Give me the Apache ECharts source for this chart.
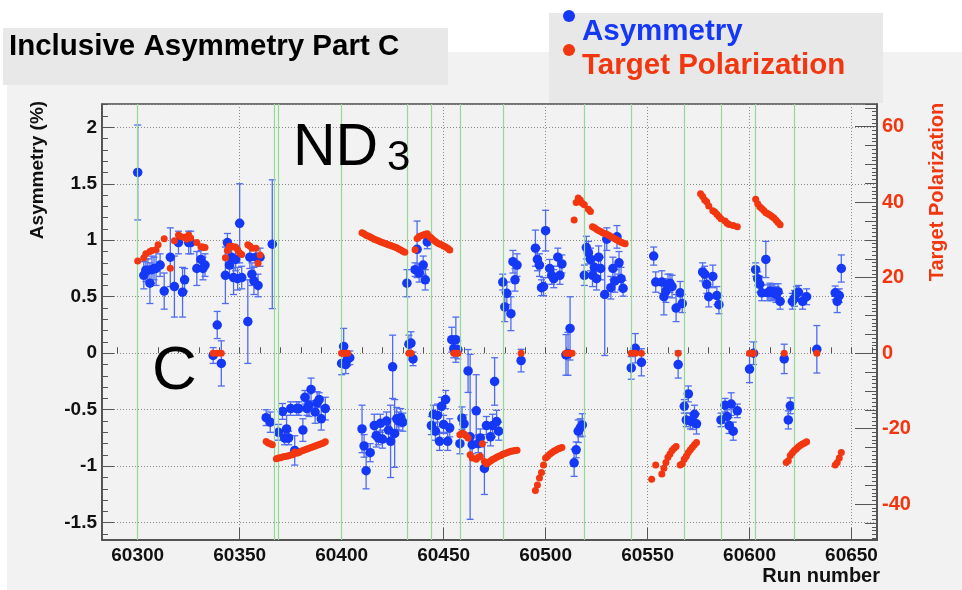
<!DOCTYPE html>
<html>
<head>
<meta charset="utf-8">
<script src="https://cdn.jsdelivr.net/npm/echarts@6/dist/echarts.min.js"></script>
<style>
html,body{margin:0;padding:0;background:#ffffff;}
#main{width:962px;height:590px;}
</style>
</head>
<body>
<div id="main"></div>
<script>
// Run numbers, asymmetry (%) and its statistical error
const asymRuns = [60300,60303,60304,60305,60306,60307,60308,60309,60311,60313,60316,60318,60320,60322,60323,60325,60326,60329,60331,60332,60333,
  60337,60339,60341,60343,60344,60345,60346,60347,60348,60349,60350,60351,60354,60355,60356,60357,60358,60359,60360,
  60363,60365,60366,60369,60371,60372,60373,60374,60375,60377,60378,60379,60381,60382,60383,60384,60385,60387,60388,60389,60390,60392,
  60400,60401,60402,60403,60404,60410,60411,60412,60414,60416,60417,60418,60419,60420,60422,60423,60424,60425,60426,60427,60428,60429,60430,
  60432,60433,60434,60435,60436,60437,60438,60440,60441,60442,60444,60445,60446,60447,60448,60449,60450,60451,60452,60453,
  60454,60455,60456,60457,60458,60459,60460,60462,60463,60464,60466,60467,60468,60470,60471,60473,60474,60475,60476,60477,
  60479,60480,60481,60483,60484,60485,60486,60488,60495,60496,60497,60498,60499,60500,60502,60503,60504,60506,60507,60508,
  60510,60511,60512,60514,60515,60516,60517,60518,60519,60520,60521,60522,60523,60524,60525,60526,60527,60529,60530,60532,60533,60534,60535,60536,60537,60538,
  60542,60544,60547,60553,60554,60557,60558,60559,60560,60561,60562,60564,60565,60566,60567,60568,60569,60570,60571,60572,60573,60574,
  60577,60578,60579,60580,60582,60584,60585,60586,60588,60589,60590,60591,60592,60594,60600,60602,
  60603,60604,60605,60606,60608,60609,60610,60611,60612,60613,60614,60615,60617,60619,60620,60621,60622,60623,60624,60626,60628,60633,
  60642,60643,60644,60645];
const asymVals = [1.60,0.69,0.735,0.735,0.62,0.74,0.75,0.75,0.78,0.55,0.85,0.59,0.98,0.54,0.65,0.98,0.98,0.75,0.83,0.75,0.78,
  -0.02,0.25,-0.09,0.69,0.98,0.78,0.85,0.67,0.83,0.66,1.15,0.67,0.28,0.85,0.70,0.64,0.85,0.60,0.85,
  -0.57,-0.61,0.965,-0.70,-0.515,-0.75,-0.67,-0.75,-0.49,-0.86,-0.49,-0.49,-0.68,-0.39,-0.49,-0.46,-0.32,-0.52,-0.44,-0.41,-0.58,-0.49,
  -0.09,0.06,-0.10,-0.05,-0.04,-0.67,-0.82,-1.04,-0.88,-0.64,-0.73,-0.75,-0.62,-0.76,-0.60,-0.68,-0.78,-0.12,-0.71,-0.58,-0.60,-0.57,-0.61,
  0.62,0.08,0.09,-0.05,0.74,0.92,0.71,0.78,0.65,0.985,-0.64,-0.54,-0.69,-0.55,-0.78,-0.47,-0.63,-0.41,-0.78,-0.66,
  0.12,0.04,0.12,0.03,-0.80,-0.575,-0.625,-0.157,-0.74,-0.81,-0.51,-0.80,-0.75,-1.02,-0.64,-0.74,-0.64,-0.25,-0.605,-0.69,
  0.63,0.41,0.53,0.35,0.81,0.65,0.78,-0.065,0.93,0.83,0.78,0.58,0.59,1.085,0.75,0.69,0.66,0.85,0.69,0.79,
  -0.015,-0.005,0.22,-0.97,-0.855,-0.69,-0.66,-0.635,0.69,0.935,0.89,0.83,0.69,0.76,0.66,0.85,0.75,0.52,1.01,0.58,0.75,0.64,1.03,0.80,0.66,0.575,
  -0.13,0.044,-0.08,0.86,0.63,0.63,0.50,0.55,0.60,0.62,0.59,0.40,-0.10,0.535,0.44,-0.47,-0.59,-0.36,-0.60,-0.605,-0.54,-0.625,
  0.72,0.70,0.61,0.50,0.68,0.51,0.43,-0.59,-0.46,-0.56,-0.64,-0.45,-0.69,-0.51,-0.14,0.00,
  0.74,0.66,0.61,0.535,0.83,0.535,0.55,0.535,0.545,0.52,0.545,0.46,-0.05,-0.59,-0.465,0.46,0.485,0.53,0.54,0.46,0.50,0.035,
  0.535,0.46,0.51,0.75];
const asymErrs = [0.42,0.12,0.10,0.10,0.18,0.12,0.10,0.15,0.10,0.16,0.26,0.27,0.10,0.22,0.10,0.10,0.10,0.15,0.08,0.10,0.10,
  0.07,0.12,0.20,0.25,0.08,0.10,0.10,0.15,0.10,0.10,0.35,0.10,0.37,0.10,0.10,0.12,0.08,0.10,0.08,
  0.07,0.09,0.57,0.07,0.07,0.06,0.12,0.06,0.06,0.13,0.06,0.06,0.10,0.06,0.06,0.10,0.10,0.10,0.10,0.06,0.10,0.10,
  0.10,0.16,0.08,0.06,0.06,0.21,0.10,0.16,0.08,0.10,0.10,0.06,0.08,0.08,0.08,0.10,0.32,0.28,0.30,0.10,0.08,0.08,0.08,
  0.12,0.08,0.10,0.06,0.06,0.25,0.08,0.08,0.09,0.06,0.08,0.08,0.08,0.10,0.08,0.08,0.08,0.08,0.08,0.08,
  0.11,0.08,0.20,0.08,0.09,0.10,0.08,0.19,0.73,0.08,0.32,0.08,0.08,0.23,0.08,0.08,0.10,0.21,0.10,0.08,
  0.07,0.13,0.10,0.15,0.10,0.10,0.10,0.10,0.16,0.10,0.10,0.07,0.08,0.18,0.08,0.08,0.08,0.08,0.08,0.08,
  0.18,0.19,0.28,0.12,0.07,0.10,0.08,0.10,0.09,0.10,0.10,0.10,0.10,0.10,0.10,0.10,0.10,0.54,0.10,0.10,0.10,0.10,0.10,0.10,0.10,0.07,
  0.10,0.13,0.12,0.08,0.09,0.10,0.16,0.10,0.10,0.08,0.10,0.12,0.12,0.10,0.08,0.06,0.06,0.07,0.07,0.07,0.08,0.09,
  0.08,0.07,0.08,0.09,0.10,0.08,0.08,0.06,0.06,0.06,0.07,0.10,0.08,0.06,0.12,0.10,
  0.06,0.06,0.07,0.07,0.16,0.07,0.07,0.07,0.07,0.07,0.07,0.07,0.13,0.08,0.07,0.07,0.07,0.06,0.06,0.07,0.07,0.21,
  0.06,0.10,0.06,0.12];

// Run numbers and target polarization (%)
const polRuns = [60300,60303,60304,60306,60307,60309,60310,60313,60316,60318,60320,60321,60323,60324,60325,60326,60329,60331,60332,60333,
  60337,60339,60341,60343,60344,60345,60346,60347,60348,60349,60350,60351,60354,60355,60356,60358,60359,60360,
  60363,60364,60365,60366,60368,60369,60370,60371,60372,60373,60374,60375,60376,60377,60378,60379,60380,60381,60382,60383,60384,60385,60386,60387,60388,60389,60390,60391,60392,
  60400,60401,60402,60403,
  60410,60411,60412,60413,60414,60415,60416,60417,60418,60419,60420,60421,60422,60423,60424,60425,60426,60427,60428,60429,60430,60431,
  60433,60434,60436,60437,60438,60439,60440,60441,60442,60443,60444,60445,60446,60447,60448,60449,60450,60451,60452,60453,
  60455,60456,60457,60458,60459,60460,60461,60462,60463,60464,60466,60467,60468,60469,
  60470,60471,60472,60473,60474,60475,60476,60477,60478,60479,60480,60481,60482,60483,60484,60485,60486,60488,
  60495,60496,60497,60498,60499,60500,60501,60502,60503,60504,60505,60506,60507,60508,60510,60511,60512,60513,
  60514,60515,60516,60517,60518,60519,60521,60522,60523,60524,60525,60526,60527,60528,60529,60530,60531,60532,60533,60534,60535,60536,60537,60538,60539,
  60542,60544,60547,60552,60554,60557,60558,60559,60560,60561,60562,60563,60564,60565,
  60566,60567,60568,60569,60570,60571,60572,60573,60574,
  60576,60577,60578,60579,60580,60582,60583,60584,60585,60586,60588,60589,60590,60592,60594,60600,60601,60602,
  60603,60604,60605,60606,60607,60608,60609,60610,60611,60612,60613,60614,60615,60617,
  60618,60619,60620,60621,60622,60623,60624,60625,60626,60627,60628,60633,60642,60643,60644,60645];
const polVals = [24.4,25.3,26.3,26.9,27.2,27.4,28.7,30.3,22.5,29.8,31.3,30.9,30.7,30.2,31.3,30.5,29.3,28.2,28.1,28.0,
  0,0,0,25.3,27.2,28.3,28.3,28.1,28.1,27.4,26.5,26.1,28.7,28.4,27.8,27.8,23.8,26.0,
  -23.4,-23.8,-24.0,-24.3,-28.0,-27.8,-27.7,-27.5,-27.4,-27.3,-27.2,-27.0,-26.9,-26.2,-26.5,-26.3,-26.0,-25.8,-25.6,-25.4,-25.2,-25.0,-24.8,-24.6,-24.4,-24.2,-24.0,-23.8,-23.5,
  0,0,0,0,
  31.9,31.6,31.2,31.0,30.8,30.5,30.2,30.0,29.8,29.5,29.3,29.1,28.9,28.7,28.5,28.3,28.1,27.9,27.6,27.3,27.0,26.7,
  0,0,27.4,30.4,30.9,31.1,31.3,31.5,31.6,30.9,30.5,30.0,29.6,29.2,28.9,28.7,28.4,28.1,27.8,27.3,
  0,0,0,-21.6,-21.2,-21.4,-21.9,-22.5,-26.9,-27.8,-28.1,-27.6,-27.3,-24.0,
  -28.7,-29.3,-29.0,-28.6,-28.2,-27.9,-27.6,-27.3,-27.1,-26.8,-26.6,-26.4,-26.2,-26.0,-25.9,-25.8,-25.7,0,
  -36.4,-34.9,-33.1,-31.6,-29.6,-27.8,-27.3,-26.8,-26.4,-26.0,-25.7,-25.4,-25.2,-25.0,0,0,0,0,
  35.3,39.9,41.1,40.6,39.7,39.3,38.1,37.5,33.5,33.2,32.8,32.5,32.2,31.9,31.7,31.5,31.2,30.9,30.6,30.3,30.0,29.7,29.4,29.2,29.0,
  0,0,0,-33.4,-29.6,-32.0,-30.5,-29.0,-27.6,-26.7,-25.8,-25.2,-24.7,0,
  -29.6,-29.3,-28.1,-27.3,-26.3,-25.6,-24.9,-24.3,-23.7,
  42.2,41.5,40.6,40.1,39.0,37.7,37.4,36.8,36.2,35.6,35.0,34.4,34.1,33.8,33.5,0,0,0,
  40.8,39.6,38.8,38.3,37.8,37.2,36.9,36.6,36.2,35.8,35.2,34.6,34.0,0,
  -29.0,-28.5,-27.1,-26.4,-25.8,-25.3,-24.8,-24.4,-24.1,-23.8,-23.5,0,-29.6,-29.0,-27.8,-26.3];

// Runs where the vertical markers are drawn
const markerRuns = [60300,60367,60369,60400,60432,60444,60458,60479,60519,60542,60568,60586,60603,60622];

// Axis ranges
const xMin = 60282.5, xMax = 60662.5;
const asymMin = -1.653, asymMax = 2.206;
const polMin = -49.5, polMax = 66;

const BLUE = '#1538f7';
const BLUE_ERR = '#4f6cf2';
const RED = '#f2360f';
const FONT = '"Liberation Sans", Arial, Helvetica, sans-serif';

const chart = echarts.init(document.getElementById('main'), null, {renderer: 'canvas'});

const errData = asymRuns.map((r, i) => [r, asymVals[i] - asymErrs[i], asymVals[i] + asymErrs[i]]);
const asymData = asymRuns.map((r, i) => [r, asymVals[i]]);
const polData = polRuns.map((r, i) => [r, polVals[i]]);

const tickColor = '#555555';
const gridLineStyle = {color: '#8a8a8a', width: 1, type: [1, 2]};

function hiddenAxisBits() {
  return {axisLine: {show: false}, axisLabel: {show: false}, splitLine: {show: false}};
}

const option = {
  backgroundColor: '#ffffff',
  animation: false,
  grid: {
    left: 102, right: 85, top: 104, bottom: 50,
    show: true, backgroundColor: '#f2f2f2', borderColor: '#4a4a4a', borderWidth: 1.5
  },
  xAxis: [
    {
      type: 'value', min: xMin, max: xMax, splitNumber: 8, position: 'bottom',
      axisLine: {show: true, onZero: false, lineStyle: {color: '#4a4a4a', width: 1.5}},
      axisTick: {show: true, inside: true, length: 12, lineStyle: {color: tickColor, width: 1}},
      axisLabel: {
        show: true, interval: 0, margin: 6, showMinLabel: false, showMaxLabel: false,
        color: '#111', fontFamily: FONT, fontWeight: 'bold', fontSize: 19,
        formatter: v => String(Math.round(v))
      },
      splitLine: {show: true, lineStyle: gridLineStyle}
    },
    Object.assign({
      type: 'value', min: xMin, max: xMax, splitNumber: 38, position: 'bottom',
      axisTick: {show: true, inside: true, length: 6, lineStyle: {color: tickColor, width: 1}}
    }, hiddenAxisBits())
  ],
  yAxis: [
    {
      type: 'value', min: asymMin, max: asymMax, splitNumber: 8, position: 'left',
      axisLine: {show: true, onZero: false, lineStyle: {color: '#4a4a4a', width: 1.5}},
      axisTick: {show: true, inside: true, length: 12, lineStyle: {color: tickColor, width: 1}},
      axisLabel: {
        show: true, margin: 5, showMinLabel: false, showMaxLabel: false,
        color: '#111', fontFamily: FONT, fontWeight: 'bold', fontSize: 19,
        formatter: v => String(Math.round(v * 10) / 10)
      },
      splitLine: {show: true, lineStyle: gridLineStyle}
    },
    Object.assign({
      type: 'value', min: asymMin, max: asymMax, splitNumber: 38, position: 'left',
      axisTick: {show: true, inside: true, length: 6, lineStyle: {color: tickColor, width: 1}}
    }, hiddenAxisBits()),
    {
      type: 'value', min: polMin, max: polMax, splitNumber: 6, position: 'right',
      axisLine: {show: true, onZero: false, lineStyle: {color: '#4a4a4a', width: 1.5}},
      axisTick: {show: true, inside: true, length: 22, lineStyle: {color: tickColor, width: 1}},
      axisLabel: {
        show: true, margin: 5, showMinLabel: false, showMaxLabel: false,
        color: RED, fontFamily: FONT, fontWeight: 'bold', fontSize: 20,
        formatter: v => String(Math.round(v))
      },
      splitLine: {show: false}
    },
    Object.assign({
      type: 'value', min: polMin, max: polMax, splitNumber: 23, position: 'right',
      axisTick: {show: true, inside: true, length: 12, lineStyle: {color: tickColor, width: 1}}
    }, hiddenAxisBits()),
    Object.assign({
      type: 'value', min: polMin, max: polMax, splitNumber: 115, position: 'right',
      axisTick: {show: true, inside: true, length: 5, lineStyle: {color: tickColor, width: 1}}
    }, hiddenAxisBits())
  ],
  series: [
    {
      name: 'markers', type: 'line', xAxisIndex: 0, yAxisIndex: 0, data: [], z: 1, silent: true,
      markLine: {
        silent: true, symbol: ['none', 'none'], label: {show: false},
        lineStyle: {color: '#96d996', width: 1.2, type: 'solid'},
        data: markerRuns.map(r => ({xAxis: r}))
      }
    },
    {
      name: 'Asymmetry error', type: 'custom', xAxisIndex: 0, yAxisIndex: 0, z: 3, silent: true,
      data: errData,
      encode: {x: 0, y: [1, 2]},
      renderItem: function (params, api) {
        const x = api.value(0);
        const top = api.coord([x, api.value(2)]);
        const bot = api.coord([x, api.value(1)]);
        const hw = 3.5;
        const st = {stroke: BLUE_ERR, lineWidth: 1.3};
        return {
          type: 'group',
          children: [
            {type: 'line', shape: {x1: top[0], y1: top[1], x2: bot[0], y2: bot[1]}, style: st},
            {type: 'line', shape: {x1: top[0] - hw, y1: top[1], x2: top[0] + hw, y2: top[1]}, style: st},
            {type: 'line', shape: {x1: bot[0] - hw, y1: bot[1], x2: bot[0] + hw, y2: bot[1]}, style: st}
          ]
        };
      }
    },
    {
      name: 'Asymmetry', type: 'scatter', xAxisIndex: 0, yAxisIndex: 0, z: 4,
      symbol: 'circle', symbolSize: 9.5, itemStyle: {color: BLUE, opacity: 1},
      data: asymData
    },
    {
      name: 'Target Polarization', type: 'scatter', xAxisIndex: 0, yAxisIndex: 2, z: 5,
      symbol: 'circle', symbolSize: 7, itemStyle: {color: RED, opacity: 1},
      data: polData
    }
  ],
  graphic: [
    {type: 'rect', z: -10, shape: {x: 7, y: 52, width: 955, height: 538}, style: {fill: '#f2f2f2'}},
    {type: 'rect', z: 50, shape: {x: 3, y: 28, width: 445, height: 57}, style: {fill: '#e8e8e8'}},
    {type: 'text', z: 51, x: 9, y: 47, style: {text: 'Inclusive Asymmetry Part C', fill: '#000', font: 'bold 29.5px ' + FONT, verticalAlign: 'middle'}},
    {type: 'rect', z: 50, shape: {x: 549, y: 13, width: 334, height: 90}, style: {fill: '#e8e8e8'}},
    {type: 'circle', z: 51, shape: {cx: 569, cy: 16, r: 6}, style: {fill: BLUE}},
    {type: 'text', z: 51, x: 582, y: 32, style: {text: 'Asymmetry', fill: BLUE, font: 'bold 29.5px ' + FONT, verticalAlign: 'middle'}},
    {type: 'circle', z: 51, shape: {cx: 569, cy: 50, r: 6}, style: {fill: RED}},
    {type: 'text', z: 51, x: 582, y: 66, style: {text: 'Target Polarization', fill: RED, font: 'bold 29.5px ' + FONT, verticalAlign: 'middle'}},
    {type: 'text', z: 51, x: 293, y: 119, style: {text: 'ND', fill: '#000', font: '59px ' + FONT, verticalAlign: 'top'}},
    {type: 'text', z: 51, x: 387, y: 137, style: {text: '3', fill: '#000', font: '42px ' + FONT, verticalAlign: 'top'}},
    {type: 'text', z: 51, x: 152, y: 341, style: {text: 'C', fill: '#000', font: '62px ' + FONT, verticalAlign: 'top'}},
    {type: 'text', z: 51, x: 38, y: 170, rotation: Math.PI / 2, style: {text: 'Asymmetry (%)', fill: '#111', font: 'bold 19px ' + FONT, align: 'center', verticalAlign: 'middle'}},
    {type: 'text', z: 51, x: 937, y: 192, rotation: Math.PI / 2, style: {text: 'Target Polarization', fill: RED, font: 'bold 20px ' + FONT, align: 'center', verticalAlign: 'middle'}},
    {type: 'text', z: 51, x: 880, y: 576, style: {text: 'Run number', fill: '#111', font: 'bold 20px ' + FONT, align: 'right', verticalAlign: 'middle'}}
  ]
};

chart.setOption(option);
</script>
</body>
</html>
